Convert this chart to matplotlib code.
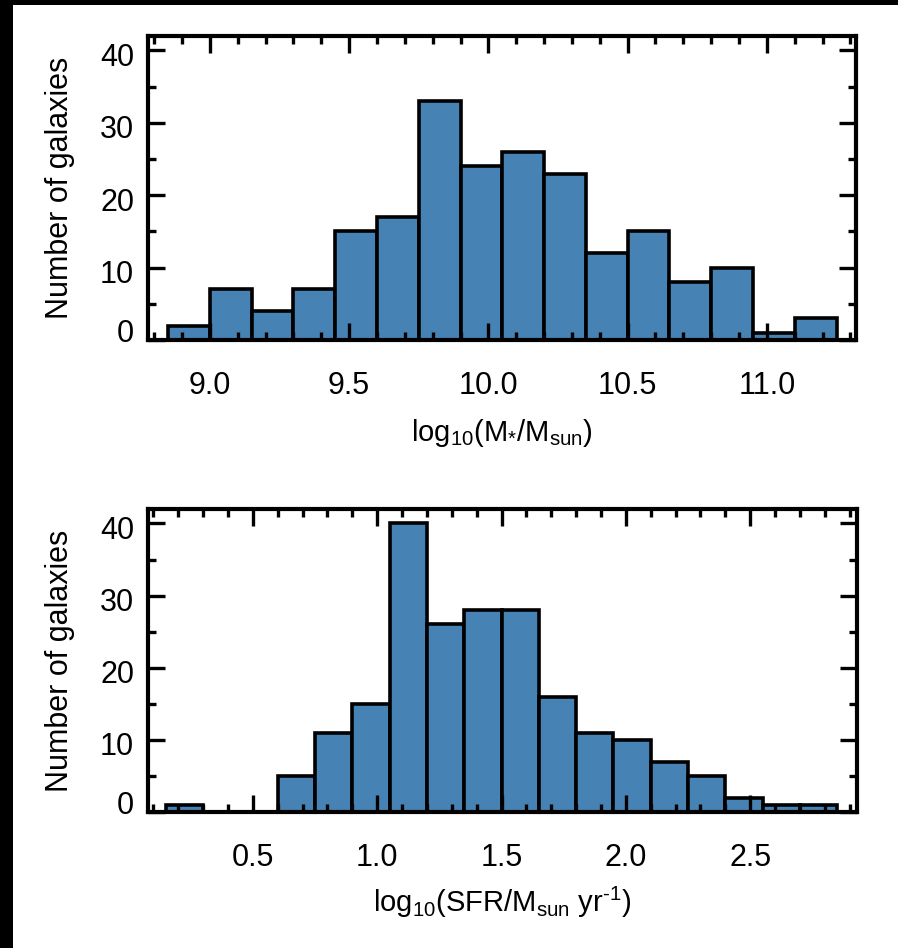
import numpy as np
import matplotlib
matplotlib.use("Agg")
import matplotlib.pyplot as plt
from matplotlib.ticker import MultipleLocator
from matplotlib.patches import Rectangle
import matplotlib.transforms as mtransforms

# -------- DATA --------
mass_edges = np.round(np.arange(8.85, 11.2501, 0.15), 2)
mass_counts = [2, 7, 4, 7, 15, 17, 33, 24, 26, 23, 12, 15, 8, 10, 1, 3]

sfr_edges = np.round(np.arange(0.15, 2.8501, 0.15), 2)
sfr_counts = [1, 0, 0, 5, 11, 15, 40, 26, 28, 28, 16, 11, 10, 7, 5, 2, 1, 1]

y_ticks = [0, 10, 20, 30, 40]
mass_xticks = [9.0, 9.5, 10.0, 10.5, 11.0]
sfr_xticks = [0.5, 1.0, 1.5, 2.0, 2.5]

# -------- STYLE --------
plt.rcParams['font.family'] = ['Liberation Sans', 'DejaVu Sans']
plt.rcParams['mathtext.default'] = 'regular'
FS = 22
BAR_COLOR = '#4682b4'

fig = plt.figure(figsize=(8.98, 9.48), dpi=100)
fig.patch.set_facecolor('black')
# white page inside the black frame
fig.patches.append(Rectangle((13 / 898, 0), 1 - 13 / 898, (948 - 5) / 948,
                             transform=fig.transFigure, facecolor='white',
                             edgecolor='none', zorder=-5))

ax1 = fig.add_axes([148 / 898, (948 - 340) / 948, 708 / 898, 304 / 948])
ax2 = fig.add_axes([148 / 898, (948 - 812) / 948, 709 / 898, 303 / 948])


def style_axes(ax, xticks, xlim, xlabel, xlab_y):
    ax.set_facecolor('white')
    ax.set_xlim(*xlim)
    ax.set_ylim(0, 42)
    ax.set_xticks(xticks)
    ax.set_xticklabels([f"{t:.1f}" for t in xticks])
    ax.set_yticks(y_ticks)
    ax.set_yticklabels([str(t) for t in y_ticks])
    ax.xaxis.set_minor_locator(MultipleLocator(0.1))
    ax.yaxis.set_minor_locator(MultipleLocator(5))
    ax.tick_params(which='both', direction='in', top=True, right=True,
                   width=2.4, labelsize=FS, colors='black')
    ax.tick_params(which='major', length=12)
    ax.tick_params(which='minor', length=6)
    ax.tick_params(axis='x', which='major', pad=22)
    ax.tick_params(axis='y', which='major', pad=10)
    for s in ax.spines.values():
        s.set_linewidth(3)
    ax.set_ylabel("Number of galaxies", fontsize=FS, va='center')
    ax.yaxis.set_label_coords(-0.124, 0.5)
    ax.set_xlabel(xlabel, fontsize=21, va='center')
    ax.xaxis.set_label_coords(0.5, xlab_y)
    # shift y tick labels a little like the original
    for lbl in ax.get_yticklabels():
        dy = 9 if lbl.get_text() == '0' else -4
        off = mtransforms.ScaledTranslation(0, dy / 100, fig.dpi_scale_trans)
        lbl.set_transform(lbl.get_transform() + off)


# -------- TOP: stellar mass --------
ax1.bar(mass_edges[:-1], mass_counts, width=np.diff(mass_edges), align='edge',
        facecolor=BAR_COLOR, edgecolor='black', linewidth=2.6, zorder=1)
style_axes(ax1, mass_xticks, (8.778, 11.32),
           r"log$_{10}$(M$_{*}$/M$_{sun}$)", -0.306)

# -------- BOTTOM: SFR --------
ax2.bar(sfr_edges[:-1], sfr_counts, width=np.diff(sfr_edges), align='edge',
        facecolor=BAR_COLOR, edgecolor='black', linewidth=2.6, zorder=1)
style_axes(ax2, sfr_xticks, (0.078, 2.93),
           r"log$_{10}$(SFR/M$_{sun}$ yr$^{‐1}$)", -0.30)

fig.savefig("out.png", dpi=100, facecolor=fig.get_facecolor())
